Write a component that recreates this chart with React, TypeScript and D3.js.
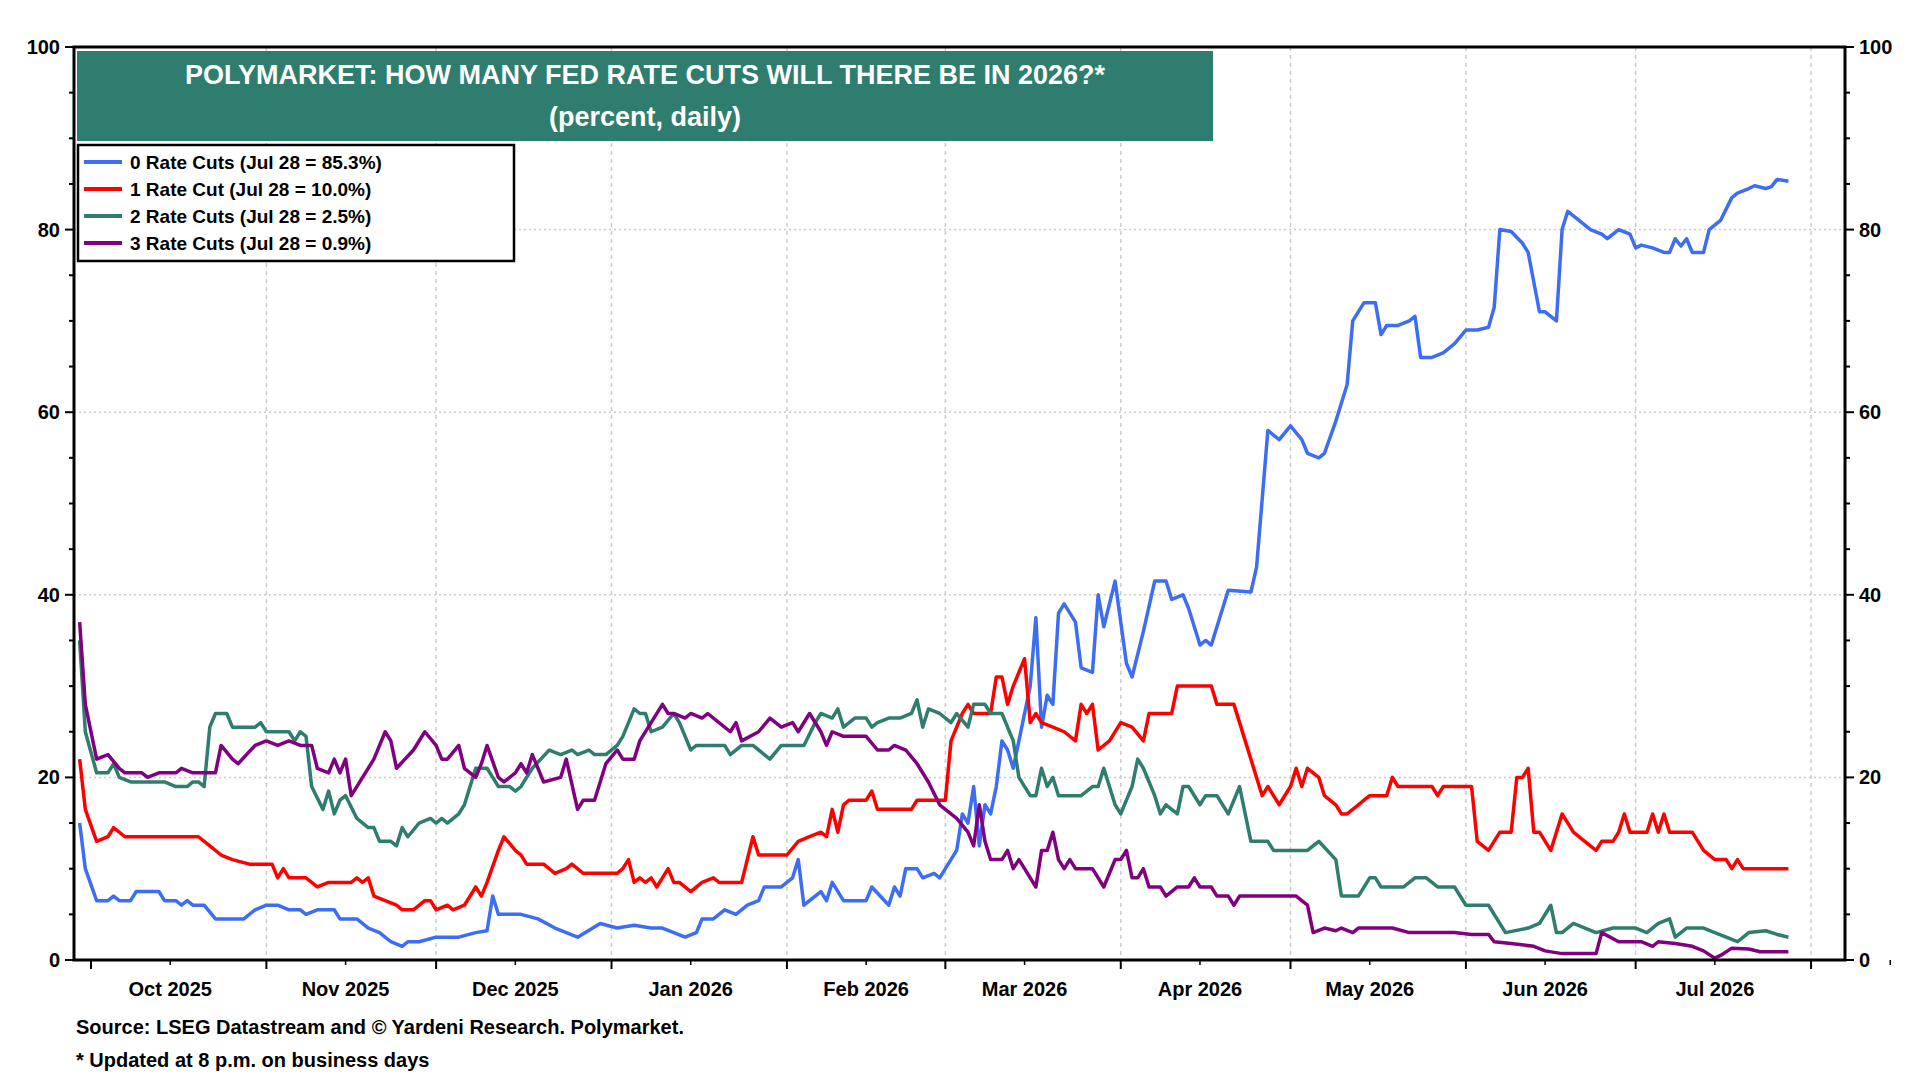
import React from "react";
import * as d3 from "d3";

type P = [string, number];

const zeroCuts: P[] = [["09-29",15],["09-30",10],["10-02",6.5],["10-04",6.5],["10-05",7],["10-06",6.5],["10-08",6.5],["10-09",7.5],["10-13",7.5],["10-14",6.5],["10-16",6.5],["10-17",6],["10-18",6.5],["10-19",6],["10-21",6],["10-23",4.5],["10-28",4.5],["10-30",5.5],["11-01",6],["11-03",6],["11-05",5.5],["11-07",5.5],["11-08",5],["11-10",5.5],["11-13",5.5],["11-14",4.5],["11-17",4.5],["11-19",3.5],["11-21",3],["11-23",2],["11-25",1.5],["11-26",2],["11-28",2],["12-01",2.5],["12-05",2.5],["12-08",3],["12-10",3.2],["12-11",7],["12-12",5],["12-16",5],["12-19",4.5],["12-22",3.5],["12-26",2.5],["12-30",4],["01-02",3.5],["01-05",3.8],["01-08",3.5],["01-10",3.5],["01-12",3],["01-14",2.5],["01-16",3],["01-17",4.5],["01-19",4.5],["01-21",5.5],["01-23",5],["01-25",6],["01-27",6.5],["01-28",8],["01-31",8],["02-02",9],["02-03",11],["02-04",6],["02-06",7],["02-07",7.5],["02-08",6.5],["02-09",8.5],["02-11",6.5],["02-13",6.5],["02-15",6.5],["02-16",8],["02-19",6],["02-20",8],["02-21",7],["02-22",10],["02-24",10],["02-25",9],["02-27",9.5],["02-28",9],["03-01",10],["03-03",12],["03-04",16],["03-05",15],["03-06",19],["03-07",12.5],["03-08",17],["03-09",16],["03-10",19],["03-11",24],["03-12",23],["03-13",21],["03-14",24],["03-16",30],["03-17",37.5],["03-18",25.5],["03-19",29],["03-20",28],["03-21",38],["03-22",39],["03-24",37],["03-25",32],["03-27",31.5],["03-28",40],["03-29",36.5],["03-31",41.5],["04-02",32.5],["04-03",31],["04-05",36],["04-07",41.5],["04-09",41.5],["04-10",39.5],["04-12",40],["04-13",38.5],["04-15",34.5],["04-16",35],["04-17",34.5],["04-18",36.5],["04-20",40.5],["04-24",40.3],["04-25",43],["04-27",58],["04-29",57],["05-01",58.5],["05-03",57],["05-04",55.5],["05-06",55],["05-07",55.5],["05-09",59],["05-11",63],["05-12",70],["05-14",72],["05-16",72],["05-17",68.5],["05-18",69.5],["05-20",69.5],["05-22",70],["05-23",70.5],["05-24",66],["05-26",66],["05-28",66.5],["05-30",67.5],["06-01",69],["06-03",69],["06-05",69.3],["06-06",71.5],["06-07",80],["06-09",79.8],["06-11",78.5],["06-12",77.5],["06-14",71],["06-15",71],["06-17",70],["06-18",80],["06-19",82],["06-21",81],["06-23",80],["06-25",79.5],["06-26",79],["06-28",80],["06-30",79.5],["07-01",78],["07-02",78.3],["07-04",78],["07-06",77.5],["07-07",77.5],["07-08",79],["07-09",78.2],["07-10",79],["07-11",77.5],["07-13",77.5],["07-14",80],["07-16",81],["07-18",83.5],["07-19",84],["07-21",84.5],["07-22",84.8],["07-24",84.5],["07-25",84.7],["07-26",85.5],["07-28",85.3]];

const oneCut: P[] = [["09-29",22],["09-30",16.5],["10-02",13],["10-04",13.5],["10-05",14.5],["10-07",13.5],["10-20",13.5],["10-22",12.5],["10-24",11.5],["10-26",11],["10-29",10.5],["11-02",10.5],["11-03",9],["11-04",10],["11-05",9],["11-08",9],["11-10",8],["11-12",8.5],["11-16",8.5],["11-17",9],["11-18",8.5],["11-19",9],["11-20",7],["11-22",6.5],["11-24",6],["11-25",5.5],["11-27",5.5],["11-29",6.5],["11-30",6.5],["12-01",5.5],["12-03",6],["12-04",5.5],["12-06",6],["12-08",8],["12-09",7],["12-10",8.5],["12-12",12],["12-13",13.5],["12-15",12],["12-16",11.5],["12-17",10.5],["12-20",10.5],["12-22",9.5],["12-24",10],["12-25",10.5],["12-27",9.5],["01-02",9.5],["01-03",10],["01-04",11],["01-05",8.5],["01-06",9],["01-07",8.5],["01-08",9],["01-09",8],["01-11",10],["01-12",8.5],["01-13",8.5],["01-15",7.5],["01-17",8.5],["01-19",9],["01-20",8.5],["01-24",8.5],["01-26",13.5],["01-27",11.5],["02-01",11.5],["02-03",13],["02-05",13.5],["02-07",14],["02-08",13.5],["02-09",16.5],["02-10",14],["02-11",17],["02-12",17.5],["02-15",17.5],["02-16",18.5],["02-17",16.5],["02-23",16.5],["02-24",17.5],["03-01",17.5],["03-02",24],["03-04",27],["03-05",28],["03-06",27],["03-09",27],["03-10",31],["03-11",31],["03-12",28],["03-13",30],["03-15",33],["03-16",26],["03-17",27],["03-18",26],["03-20",25.5],["03-22",25],["03-24",24],["03-25",28],["03-26",27],["03-27",28],["03-28",23],["03-30",24],["04-01",26],["04-03",25.5],["04-05",24],["04-06",27],["04-10",27],["04-11",30],["04-17",30],["04-18",28],["04-21",28],["04-23",24],["04-25",20],["04-26",18],["04-27",19],["04-29",17],["05-01",19],["05-02",21],["05-03",19],["05-04",21],["05-06",20],["05-07",18],["05-09",17],["05-10",16],["05-11",16],["05-13",17],["05-14",17.5],["05-15",18],["05-18",18],["05-19",20],["05-20",19],["05-26",19],["05-27",18],["05-28",19],["06-02",19],["06-03",13],["06-05",12],["06-07",14],["06-09",14],["06-10",20],["06-11",20],["06-12",21],["06-13",14],["06-14",14],["06-16",12],["06-17",14],["06-18",16],["06-20",14],["06-22",13],["06-24",12],["06-25",13],["06-27",13],["06-28",14],["06-29",16],["06-30",14],["07-03",14],["07-04",16],["07-05",14],["07-06",16],["07-07",14],["07-11",14],["07-13",12],["07-15",11],["07-17",11],["07-18",10],["07-19",11],["07-20",10],["07-28",10]];

const twoCuts: P[] = [["09-29",35],["09-30",25],["10-02",20.5],["10-04",20.5],["10-05",21.5],["10-06",20],["10-08",19.5],["10-14",19.5],["10-16",19],["10-18",19],["10-19",19.5],["10-20",19.5],["10-21",19],["10-22",25.5],["10-23",27],["10-25",27],["10-26",25.5],["10-30",25.5],["10-31",26],["11-01",25],["11-05",25],["11-06",24],["11-07",25],["11-08",24.5],["11-09",19],["11-11",16.5],["11-12",18.5],["11-13",16],["11-14",17.5],["11-15",18],["11-17",15.5],["11-19",14.5],["11-20",14.5],["11-21",13],["11-23",13],["11-24",12.5],["11-25",14.5],["11-26",13.5],["11-28",15],["11-30",15.5],["12-01",15],["12-02",15.5],["12-03",15],["12-05",16],["12-06",17],["12-08",21],["12-10",21],["12-11",20],["12-12",19],["12-14",19],["12-15",18.5],["12-16",19],["12-17",20],["12-18",21],["12-21",23],["12-23",22.5],["12-25",23],["12-26",22.5],["12-28",23],["12-29",22.5],["12-31",22.5],["01-02",23.5],["01-03",24.5],["01-05",27.5],["01-06",27],["01-07",27],["01-08",25],["01-10",25.5],["01-12",27],["01-13",26],["01-15",23],["01-16",23.5],["01-21",23.5],["01-22",22.5],["01-24",23.5],["01-26",23.5],["01-28",22.5],["01-29",22],["01-31",23.5],["02-04",23.5],["02-06",26],["02-07",27],["02-09",26.5],["02-10",27.5],["02-11",25.5],["02-13",26.5],["02-15",26.5],["02-16",25.5],["02-17",26],["02-19",26.5],["02-21",26.5],["02-23",27],["02-24",28.5],["02-25",25.5],["02-26",27.5],["02-28",27],["03-02",26],["03-03",27],["03-05",25.5],["03-06",28],["03-08",28],["03-09",27],["03-11",27],["03-13",24],["03-14",20],["03-16",18],["03-17",18],["03-18",21],["03-19",19],["03-20",20],["03-21",18],["03-25",18],["03-27",19],["03-28",19],["03-29",21],["03-31",17],["04-01",16],["04-03",19],["04-04",22],["04-05",21],["04-07",18],["04-08",16],["04-09",17],["04-11",16],["04-12",19],["04-13",19],["04-15",17],["04-16",18],["04-18",18],["04-19",17],["04-20",16],["04-22",19],["04-24",13],["04-27",13],["04-28",12],["05-04",12],["05-06",13],["05-09",11],["05-10",7],["05-13",7],["05-15",9],["05-16",9],["05-17",8],["05-21",8],["05-23",9],["05-25",9],["05-27",8],["05-30",8],["06-01",6],["06-05",6],["06-08",3],["06-12",3.5],["06-14",4],["06-16",6],["06-17",3],["06-18",3],["06-20",4],["06-24",3],["06-27",3.5],["07-01",3.5],["07-03",3],["07-05",4],["07-07",4.5],["07-08",2.5],["07-10",3.5],["07-13",3.5],["07-15",3],["07-19",2],["07-21",3],["07-24",3.2],["07-26",2.8],["07-28",2.5]];

const threeCuts: P[] = [["09-29",37],["09-30",28],["10-02",22],["10-04",22.5],["10-06",21],["10-07",20.5],["10-10",20.5],["10-11",20],["10-13",20.5],["10-16",20.5],["10-17",21],["10-19",20.5],["10-23",20.5],["10-24",23.5],["10-26",22],["10-27",21.5],["10-30",23.5],["11-01",24],["11-03",23.5],["11-05",24],["11-07",23.5],["11-09",23.5],["11-10",21],["11-12",20.5],["11-13",22],["11-14",20.5],["11-15",22],["11-16",18],["11-18",20],["11-20",22],["11-22",25],["11-23",24],["11-24",21],["11-27",23],["11-29",25],["12-01",23.5],["12-02",22],["12-03",22],["12-05",23.5],["12-06",21],["12-08",20],["12-09",21.5],["12-10",23.5],["12-12",20],["12-13",19.5],["12-15",20.5],["12-16",21.5],["12-17",20.5],["12-18",22.5],["12-20",19.5],["12-23",20],["12-24",22],["12-26",16.5],["12-27",17.5],["12-29",17.5],["12-31",21.5],["01-02",23],["01-03",22],["01-05",22],["01-06",24],["01-08",26],["01-10",28],["01-11",27],["01-12",27],["01-14",26.5],["01-15",27],["01-17",26.5],["01-18",27],["01-20",26],["01-22",25],["01-23",26],["01-24",24],["01-27",25],["01-29",26.5],["01-31",25.5],["02-02",26],["02-03",25],["02-05",27],["02-07",25],["02-08",23.5],["02-09",25],["02-11",24.5],["02-15",24.5],["02-17",23],["02-19",23],["02-20",23.5],["02-22",23],["02-24",21.5],["02-26",19.5],["02-28",17],["03-02",16],["03-03",15.5],["03-05",14],["03-06",12.5],["03-07",17],["03-08",13],["03-09",11],["03-11",11],["03-12",12],["03-13",10],["03-14",11],["03-15",10],["03-17",8],["03-18",12],["03-19",12],["03-20",14],["03-21",11],["03-22",10],["03-23",11],["03-24",10],["03-27",10],["03-29",8],["03-31",11],["04-01",11],["04-02",12],["04-03",9],["04-04",9],["04-05",10],["04-06",8],["04-08",8],["04-09",7],["04-11",8],["04-13",8],["04-14",9],["04-15",8],["04-17",8],["04-18",7],["04-20",7],["04-21",6],["04-22",7],["05-02",7],["05-04",6],["05-05",3],["05-07",3.5],["05-09",3.2],["05-10",3.5],["05-12",3],["05-13",3.5],["05-19",3.5],["05-22",3],["05-30",3],["06-02",2.8],["06-05",2.8],["06-06",2],["06-09",1.8],["06-13",1.5],["06-15",1],["06-18",0.7],["06-24",0.7],["06-25",3],["06-28",2],["07-02",2],["07-04",1.5],["07-05",2],["07-08",1.8],["07-11",1.5],["07-13",1],["07-15",0.2],["07-16",0.5],["07-18",1.3],["07-21",1.2],["07-23",0.9],["07-28",0.9]];

const seriesNames = ["0 Rate Cuts (Jul 28 = 85.3%)", "1 Rate Cut (Jul 28 = 10.0%)", "2 Rate Cuts (Jul 28 = 2.5%)", "3 Rate Cuts (Jul 28 = 0.9%)"];
const seriesColors = ["#3d6df2", "#ff0000", "#2e7d6e", "#800080"];
const monthLabels = ["Oct 2025", "Nov 2025", "Dec 2025", "Jan 2026", "Feb 2026", "Mar 2026", "Apr 2026", "May 2026", "Jun 2026", "Jul 2026"];
const yTicks = [0, 20, 40, 60, 80, 100];

const parse = (s: string) => {
  const [m, d] = s.split("-").map(Number);
  return new Date(m >= 9 ? 2025 : 2026, m - 1, d);
};

export default function App() {
  const L = 74, R = 1845, T = 47, B = 960;
  const x = d3.scaleTime().domain([new Date(2025, 8, 28), new Date(2026, 7, 7)]).range([L, R]);
  const y = d3.scaleLinear().domain([0, 100]).range([B, T]);
  const line = d3.line<P>().x(p => x(parse(p[0]))).y(p => y(p[1]));
  const all = [zeroCuts, oneCut, twoCuts, threeCuts];
  const months = d3.timeMonth.range(new Date(2025, 9, 1), new Date(2026, 7, 2));
  const half = months.map(m => new Date(m.getFullYear(), m.getMonth(), 15));
  const font = "Arial, 'Liberation Sans', sans-serif";
  const minorY = d3.range(0, 101, 5);
  return (
    <svg width={1920} height={1080} style={{ position: "absolute", left: 0, top: 0, background: "#fff" }} fontFamily={font}>
      {yTicks.slice(1, 5).map(v => (
        <line key={"gy" + v} x1={L} x2={R} y1={y(v)} y2={y(v)} stroke="#ccc" strokeWidth={1.5} strokeDasharray="2,3" />
      ))}
      {months.slice(1).map((m, i) => (
        <line key={"gx" + i} x1={x(m)} x2={x(m)} y1={T} y2={B} stroke="#ccc" strokeWidth={1.5} strokeDasharray="4,4" />
      ))}
      {all.map((s, i) => (
        <path key={"s" + i} d={line(s) || ""} fill="none" stroke={seriesColors[i]} strokeWidth={3.5} strokeLinejoin="round" />
      ))}
      <rect x={L} y={T} width={R - L} height={B - T} fill="none" stroke="#000" strokeWidth={3} />
      {minorY.map(v => (
        <g key={"ty" + v}>
          <line x1={L - (v % 20 === 0 ? 9 : 5)} x2={L} y1={y(v)} y2={y(v)} stroke="#000" strokeWidth={2} />
          <line x1={R} x2={R + (v % 20 === 0 ? 9 : 5)} y1={y(v)} y2={y(v)} stroke="#000" strokeWidth={2} />
        </g>
      ))}
      {yTicks.map(v => (
        <g key={"yl" + v} fontSize={20} fontWeight="bold">
          <text x={L - 14} y={y(v) + 7} textAnchor="end">{v}</text>
          <text x={R + 14} y={y(v) + 7} textAnchor="start">{v}</text>
        </g>
      ))}
      {months.map((m, i) => (
        <line key={"mt" + i} x1={x(m)} x2={x(m)} y1={B} y2={B + 9} stroke="#000" strokeWidth={2} />
      ))}
      {half.map((m, i) => (
        <line key={"ht" + i} x1={x(m)} x2={x(m)} y1={B} y2={B + 5} stroke="#000" strokeWidth={1.5} />
      ))}
      {monthLabels.map((lab, i) => (
        <text key={"ml" + i} x={x(half[i])} y={996} textAnchor="middle" fontSize={20} fontWeight="bold">{lab}</text>
      ))}
      <rect x={77} y={51} width={1136} height={90} fill="#2e7d6e" />
      <text x={645} y={84} textAnchor="middle" fill="#fff" fontSize={27} fontWeight="bold">POLYMARKET: HOW MANY FED RATE CUTS WILL THERE BE IN 2026?*</text>
      <text x={645} y={126} textAnchor="middle" fill="#fff" fontSize={27} fontWeight="bold">(percent, daily)</text>
      <rect x={78} y={145} width={436} height={116} fill="#fff" stroke="#000" strokeWidth={2.5} />
      {seriesNames.map((n, i) => (
        <g key={"lg" + i}>
          <line x1={84} x2={122} y1={162 + i * 27} y2={162 + i * 27} stroke={seriesColors[i]} strokeWidth={4} />
          <text x={130} y={169 + i * 27} fontSize={19} fontWeight="bold">{n}</text>
        </g>
      ))}
      <text x={76} y={1034} fontSize={20} fontWeight="bold">Source: LSEG Datastream and © Yardeni Research. Polymarket.</text>
      <text x={76} y={1067} fontSize={20} fontWeight="bold">* Updated at 8 p.m. on business days</text>
    </svg>
  );
}
